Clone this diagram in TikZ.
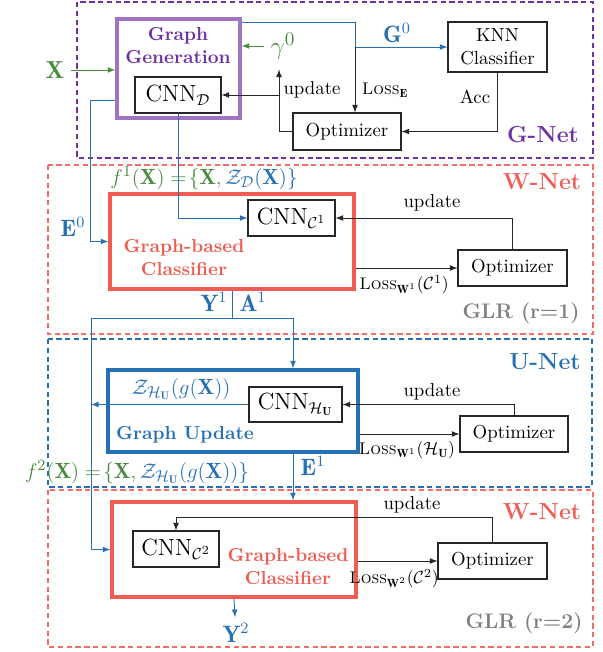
\documentclass[tikz,border=0pt]{standalone}
\usepackage{amsmath, amssymb}
\usepackage{fontspec}
\usepackage{tikz}
\usetikzlibrary{arrows}
\usetikzlibrary{calc}

\definecolor{gpurple}{RGB}{112,48,160}
\definecolor{gboxpurple}{RGB}{160,115,195}
\definecolor{wred}{RGB}{238,92,82}
\definecolor{wdash}{RGB}{242,110,100}
\definecolor{ublue}{RGB}{38,112,180}
\definecolor{fgreen}{RGB}{72,138,62}
\definecolor{glrgray}{RGB}{128,128,128}

\tikzset{
	box/.style={draw=black!85, line width=0.6pt, inner sep=0pt},
	bigbox/.style={draw, line width=1.9pt, inner sep=0pt},
	frame/.style={line width=0.6pt, dash pattern=on 3pt off 2pt},
	conn/.style={->, >=latex, line width=0.5pt, black!85},
	bconn/.style={line width=0.5pt, ublue, >=latex},
	netname/.style={font=\bfseries\fontsize{13.2}{15}\selectfont},
	glrname/.style={font=\bfseries\fontsize{12}{14}\selectfont, glrgray},
	cnnfont/.style={font=\fontsize{13.3}{15}\selectfont},
	lossfont/.style={font=\fontsize{9.6}{11}\selectfont},
	mathlab/.style={font=\fontsize{12.5}{14}\selectfont}
}

\begin{document}
\begin{tikzpicture}[x=0.02cm, y=-0.02cm, font=\fontsize{10.7}{12.8}\selectfont]
	\useasboundingbox (0,0) rectangle (602,652);

	% dashed regions
	\draw[frame, gpurple] (77,2) rectangle (593,158);
	\draw[frame, wdash] (48,165) rectangle (593,334);
	\draw[frame, ublue] (48,339) rectangle (592,487);
	\draw[frame, wdash] (48,490) rectangle (593,647);

	\node[netname, gpurple] (gnet) at (543,135) {G-Net};
	\node[netname, wred] (wnet1) at (542,182) {W-Net};
	\node[glrname] (glr1) at (521,313) {GLR (r=1)};
	\node[netname, ublue] (unet) at (545,362) {U-Net};
	\node[netname, wred] (wnet2) at (542,512) {W-Net};
	\node[glrname] (glr2) at (524,623) {GLR (r=2)};

	% G-Net
	\node[bigbox, draw=gboxpurple, minimum width=2.46cm, minimum height=1.98cm] (gg) at (178.5,68.5) {};
	\node[align=center, gpurple, font=\bfseries\fontsize{10.7}{12.8}\selectfont] (ggtext) at (178,45.5) {Graph\\Generation};
	\node[box, cnnfont, minimum width=1.72cm, minimum height=0.72cm] (cnnd) at (178,95) {CNN$_{\mathcal{D}}$};
	\node[box, align=center, minimum width=1.98cm, minimum height=1cm] (knn) at (497.5,47) {KNN\\Classifier};
	\node[box, minimum width=2.16cm, minimum height=0.74cm] (optg) at (347,131.5) {Optimizer};

	\node[mathlab, fgreen, font=\fontsize{14}{16}\selectfont] (x) at (55,70) {$\mathbf{X}$};
	\node[fgreen, font=\fontsize{15}{17}\selectfont] (gam) at (283,46) {$\gamma^0$};

	\draw[->, >=latex, fgreen, line width=0.5pt] (x.east) -- (gg.west |- x);
	\draw[->, >=latex, fgreen, line width=0.5pt] (gam.west) -- (gg.east |- gam);

	\coordinate (split) at (355,47);
	\draw[bconn, ->] ([yshift=-0.1cm]gg.north east) -| (split) -- (knn.west);
	\node[mathlab, ublue, font=\fontsize{13.5}{15}\selectfont] (g0) at (397,33) {$\mathbf{G}^0$};
	\draw[conn] (split) -- (split |- optg.north);
	\node[lossfont] (losse) at (385,90) {$\textsc{Loss}_{\mathbf{E}}$};

	\draw[conn] (knn.south) |- (optg.east);
	\node (acc) at (475,97) {Acc};

	\coordinate (updg) at (279,95);
	\draw[conn] (optg.west) -| (updg) -- (cnnd.east);
	\draw[conn] (updg) -- ([yshift=-0.08cm]gam.south -| updg);
	\node (updgtext) at (312,90) {update};

	% W-Net (r=1)
	\node[bigbox, draw=wred, minimum width=4.88cm, minimum height=1.9cm] (cls1) at (232,241.5) {};
	\node[align=center, wred, font=\bfseries\fontsize{10.7}{12.8}\selectfont] (cls1text) at (184,257.5) {Graph-based\\Classifier};
	\node[box, cnnfont, minimum width=1.74cm, minimum height=0.72cm] (cnnc1) at (291.5,218) {CNN$_{\mathcal{C}^1}$};
	\node[box, minimum width=2.18cm, minimum height=0.72cm] (optw1) at (512.5,268) {Optimizer};

	\node[mathlab, fgreen] (f1) at (204,178) {$f^1(\mathbf{X}) = \!\{\mathbf{X}, \textcolor{ublue}{\mathcal{Z}_{\mathcal{D}}(\mathbf{X})\}}$};

	\coordinate (e0) at (90,241.5);
	\draw[bconn, ->] ([yshift=0.38cm]gg.south west) -| (e0) -- (cls1.west);
	\node[mathlab, ublue, font=\fontsize{13.5}{15}\selectfont] (e0text) at (73,227) {$\mathbf{E}^0$};
	\draw[bconn, ->] (cnnd.south) |- (cnnc1.west);

	\draw[conn] (optw1.west -| cls1.east) -- (optw1.west);
	\node[lossfont] (loss1) at (404,285) {$\textsc{Loss}_{\mathbf{W}^1}(\mathcal{C}^1)$};
	\draw[conn] (optw1.north) |- (cnnc1.east);
	\node (upd1) at (432,203) {update};

	\coordinate (ya) at (232,318);
	\coordinate (yl) at (91,318);
	\coordinate (yr) at (293,318);
	\draw[bconn] (cls1.south) -- (ya);
	\draw[bconn] (yl) -- (yr);
	\node[mathlab, ublue, font=\fontsize{13.5}{15}\selectfont] (y1) at (214,302) {$\mathbf{Y}^1$};
	\node[mathlab, ublue, font=\fontsize{13.5}{15}\selectfont] (a1) at (253,302) {$\mathbf{A}^1$};

	% U-Net
	\node[bigbox, draw=ublue, minimum width=5cm, minimum height=1.64cm] (gu) at (233,411) {};
	\node[ublue, font=\bfseries\fontsize{10.7}{12.8}\selectfont] (gutext) at (185,435) {Graph Update};
	\node[box, cnnfont, minimum width=1.86cm, minimum height=0.7cm] (cnnhu) at (295.5,404.5) {CNN$_{\mathcal{H}_{\mathbf{U}}}$};
	\node[box, minimum width=2.16cm, minimum height=0.72cm] (optu) at (514,434) {Optimizer};
	\node[mathlab, ublue] (zhu) at (181,389) {$\mathcal{Z}_{\mathcal{H}_{\mathbf{U}}}(g(\mathbf{X}))$};

	% W-Net (r=2)
	\node[bigbox, draw=wred, minimum width=4.88cm, minimum height=1.9cm] (cls2) at (234,549.5) {};
	\node[align=center, wred, font=\bfseries\fontsize{10.7}{12.8}\selectfont] (cls2text) at (288,566.5) {Graph-based\\Classifier};
	\node[box, cnnfont, minimum width=1.72cm, minimum height=0.72cm] (cnnc2) at (176,549) {CNN$_{\mathcal{C}^2}$};
	\node[box, minimum width=2.18cm, minimum height=0.72cm] (opt2) at (492.5,561) {Optimizer};

	\draw[bconn, ->] (yr) -- (gu.north -| yr);
	\draw[bconn, ->] (yl) -- (yl |- cls2.west) -- (cls2.west);
	\draw[bconn, ->] (cnnhu.west) -- (cnnhu.west -| yl);

	\draw[conn] (optu.north) |- (cnnhu.east);
	\node (upd2) at (432,392) {update};
	\draw[conn] (optu.west -| gu.east) -- (optu.west);
	\node[lossfont] (lossu) at (407,450) {$\textsc{Loss}_{\mathbf{W}^1}(\mathcal{H}_{\mathbf{U}})$};

	\node[mathlab, fgreen] (f2) at (137,472) {$f^2(\mathbf{X}) = \!\{\mathbf{X}, \textcolor{ublue}{\mathcal{Z}_{\mathcal{H}_{\mathbf{U}}}(g(\mathbf{X}))\}}$};

	\draw[bconn, ->] (gu.south -| yr) -- (cls2.north -| yr);
	\node[mathlab, ublue, font=\fontsize{13.5}{15}\selectfont] (e1) at (313,466) {$\mathbf{E}^1$};

	\coordinate (upd2c) at (176,517);
	\draw[conn] (opt2.north) |- (upd2c) -- (cnnc2.north);
	\node (upd3) at (412,505) {update};
	\draw[conn] (opt2.west -| cls2.east) -- (opt2.west);
	\node[lossfont] (loss2) at (394,579) {$\textsc{Loss}_{\mathbf{W}^2}(\mathcal{C}^2)$};

	\node[mathlab, ublue, font=\fontsize{13.5}{15}\selectfont] (y2) at (236,633) {$\mathbf{Y}^2$};
	\draw[bconn, ->] (cls2.south) -- (y2);
\end{tikzpicture}
\end{document}
